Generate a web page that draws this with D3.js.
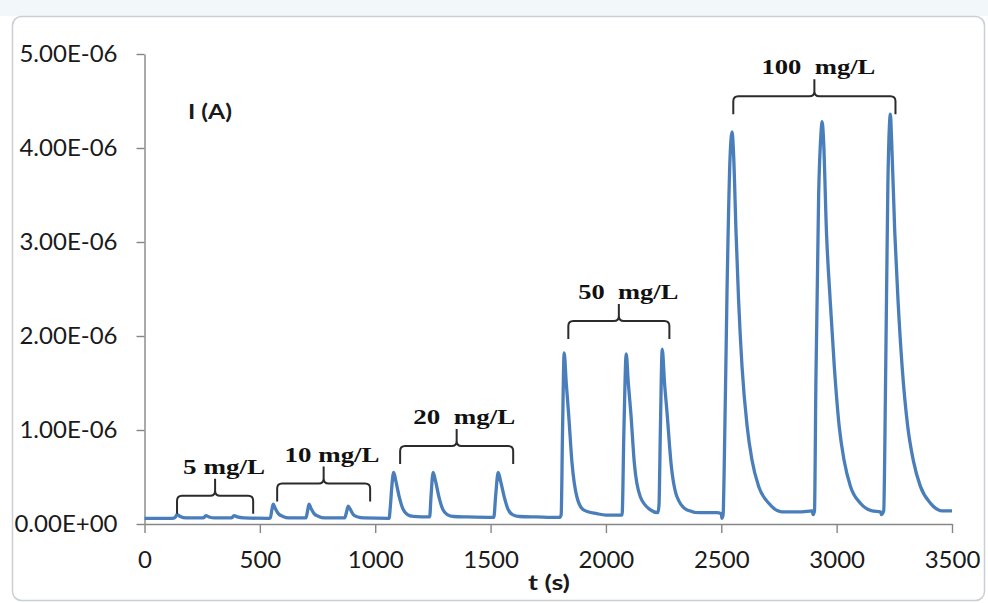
<!DOCTYPE html>
<html>
<head>
<meta charset="utf-8">
<script src="https://cdn.jsdelivr.net/npm/d3@7"></script>
<style>
  html, body { margin: 0; padding: 0; background: #fff; }
  svg text { white-space: pre; }
</style>
</head>
<body>
<div id="chart"></div>
<script>
// time (s) and current (µA)
var timeS = [0,120,133,141,155,180,250,258,266,280,305,372,380,388,402,430,540,
  546,552,558,566,580,600,625,700,706,713,721,735,755,780,868,875,883,891,905,925,950,1060,
  1066,1072,1080,1090,1105,1120,1140,1165,1200,1236,1242,1251,1262,1277,1292,1312,1340,1400,
  1514,1522,1533,1544,1560,1575,1595,1625,1700,1800,
  1806,1812,1819,1828,1838,1853,1874,1903,1961,2000,2070,2078,2088,2097,2108,2123,2149,2193,
  2225,2230,2236,2244,2254,2265,2282,2308,2352,2409,2480,2500,2503,2508,
  2512,2525,2538,2547,2553,2564,2575,2590,2612,2633,2662,2706,2763,2850,2894,2898,2904,
  2910,2922,2932,2937,2943,2956,2972,2990,3011,3032,3060,3103,3154,3190,3194,3204,
  3212,3222,3229,3233,3238,3252,3266,3284,3308,3332,3363,3407,3457,3500];
var currentUA = [0.06,0.06,0.07,0.10,0.08,0.065,0.065,0.07,0.09,0.075,0.065,0.065,0.07,0.09,0.075,0.065,0.06,
  0.07,0.15,0.21,0.17,0.11,0.08,0.065,0.065,0.13,0.21,0.17,0.11,0.08,0.065,0.065,0.12,0.19,0.16,0.10,0.075,0.065,0.06,
  0.2,0.4,0.55,0.45,0.28,0.16,0.10,0.08,0.075,0.075,0.3,0.55,0.45,0.28,0.16,0.10,0.08,0.075,
  0.07,0.3,0.55,0.45,0.28,0.16,0.10,0.08,0.075,0.07,
  0.1,1.0,1.82,1.5,1.18,0.65,0.29,0.15,0.11,0.095,0.095,1.0,1.81,1.5,1.18,0.65,0.29,0.15,
  0.12,0.2,1.0,1.86,1.5,1.18,0.65,0.29,0.15,0.12,0.12,0.11,0.06,0.1,
  0.5,2.5,3.9,4.17,3.95,3.10,2.38,1.67,1.04,0.68,0.40,0.22,0.13,0.13,0.14,0.10,0.14,
  1.5,3.5,4.15,4.28,4.1,3.10,2.38,1.67,1.04,0.68,0.40,0.22,0.14,0.13,0.10,0.14,
  1.5,3.6,4.25,4.36,4.1,3.10,2.38,1.67,1.04,0.68,0.40,0.22,0.14,0.14];

var xTicks = [0,500,1000,1500,2000,2500,3000,3500];
var yTicks = [0,1,2,3,4,5];
var yTickLabels = ["0.00E+00","1.00E-06","2.00E-06","3.00E-06","4.00E-06","5.00E-06"];

// concentration groups: label, bracket start/end (s), bracket level (µA), label centre (s)
var groupLabels = ["5 mg/L","10 mg/L","20  mg/L","50  mg/L","100  mg/L"];
var groupStart = [141,575,1108,1837,2552];
var groupEnd = [471,978,1598,2275,3255];
var groupLevel = [0.30,0.43,0.83,2.16,4.55];
var groupLabelT = [345,813,1386,2097,2921];

var width = 988, height = 603;
var svg = d3.select("#chart").append("svg")
    .attr("width", width)
    .attr("height", height);

// frame
svg.append("rect").attr("x",0).attr("y",0).attr("width",width).attr("height",16).attr("fill","#f2f8fa");
svg.append("rect")
    .attr("x",12.5).attr("y",16.5).attr("width",972).attr("height",584)
    .attr("rx",9).attr("fill","#fff").attr("stroke","#c9cfd3").attr("stroke-width",1.5);

var x = d3.scaleLinear().domain([0,3500]).range([144.5,952]);
var y = d3.scaleLinear().domain([0,5]).range([524,54]);

var axisColor = "#868686";
var tickFont = "Lato, 'Open Sans', sans-serif";

var yAxis = svg.append("g")
    .attr("transform","translate(" + x(0) + ",0)")
    .call(d3.axisLeft(y).tickValues(yTicks).tickSize(8).tickSizeOuter(0)
      .tickFormat(function(d,i){ return yTickLabels[i]; }));
var xAxis = svg.append("g")
    .attr("transform","translate(0," + y(0) + ")")
    .call(d3.axisBottom(x).tickValues(xTicks).tickSize(9).tickSizeOuter(0)
      .tickFormat(d3.format("d")));

[xAxis, yAxis].forEach(function(a){
  a.select(".domain").attr("stroke",axisColor).attr("stroke-width",1.4);
  a.selectAll(".tick line").attr("stroke",axisColor).attr("stroke-width",1.4);
  a.selectAll(".tick text").attr("fill","#1a1a1a").style("font-family",tickFont).style("font-size","24px");
});
yAxis.selectAll(".tick text").attr("x",-27);
xAxis.selectAll(".tick text").attr("y",27);

// trace
var pts = timeS.map(function(t,i){ return [t, currentUA[i]]; });
svg.append("path")
    .datum(pts)
    .attr("fill","none")
    .attr("stroke","#4a7ebb")
    .attr("stroke-width",3.3)
    .attr("stroke-linejoin","round")
    .attr("d", d3.line()
      .x(function(d){ return x(d[0]); })
      .y(function(d){ return y(d[1]); })
      .curve(d3.curveMonotoneX));

// axis titles
svg.append("text").attr("x",188).attr("y",119).attr("textLength",44).attr("lengthAdjust","spacingAndGlyphs")
    .style("font-family",tickFont).style("font-weight","bold").style("font-size","21px").attr("fill","#1a1a1a")
    .text("I (A)");
svg.append("text").attr("x",528).attr("y",590).attr("textLength",42).attr("lengthAdjust","spacingAndGlyphs")
    .style("font-family",tickFont).style("font-weight","bold").style("font-size","21px").attr("fill","#1a1a1a")
    .text("t (s)");

// brackets
var labelWidth = [82,95,102,100,114];
var drop = 18, tip = 17, r = 5;
function bracePath(x1, x2, yl){
  var xm = (x1 + x2) / 2;
  return "M" + x1 + "," + (yl + drop) +
    "L" + x1 + "," + (yl + r) +
    "Q" + x1 + "," + yl + " " + (x1 + r) + "," + yl +
    "L" + (xm - r) + "," + yl +
    "Q" + xm + "," + yl + " " + xm + "," + (yl - r) +
    "L" + xm + "," + (yl - tip) +
    "M" + xm + "," + (yl - r) +
    "Q" + xm + "," + yl + " " + (xm + r) + "," + yl +
    "L" + (x2 - r) + "," + yl +
    "Q" + x2 + "," + yl + " " + x2 + "," + (yl + r) +
    "L" + x2 + "," + (yl + drop);
}
var groups = svg.append("g").selectAll("g")
    .data(groupLabels)
    .enter().append("g");
groups.append("path")
    .attr("fill","none")
    .attr("stroke","#2b2b2b")
    .attr("stroke-width",2)
    .attr("d", function(d,i){ return bracePath(x(groupStart[i]), x(groupEnd[i]), y(groupLevel[i])); });
groups.append("text")
    .attr("x", function(d,i){ return x(groupLabelT[i]) - labelWidth[i] / 2; })
    .attr("y", function(d,i){ return y(groupLevel[i]) - tip - 5; })
    .attr("textLength", function(d,i){ return labelWidth[i]; })
    .attr("lengthAdjust","spacingAndGlyphs")
    .style("font-family","'Liberation Serif', 'Times New Roman', serif")
    .style("font-weight","bold")
    .style("font-size","22px")
    .attr("fill","#111")
    .text(function(d){ return d; });
</script>
</body>
</html>
